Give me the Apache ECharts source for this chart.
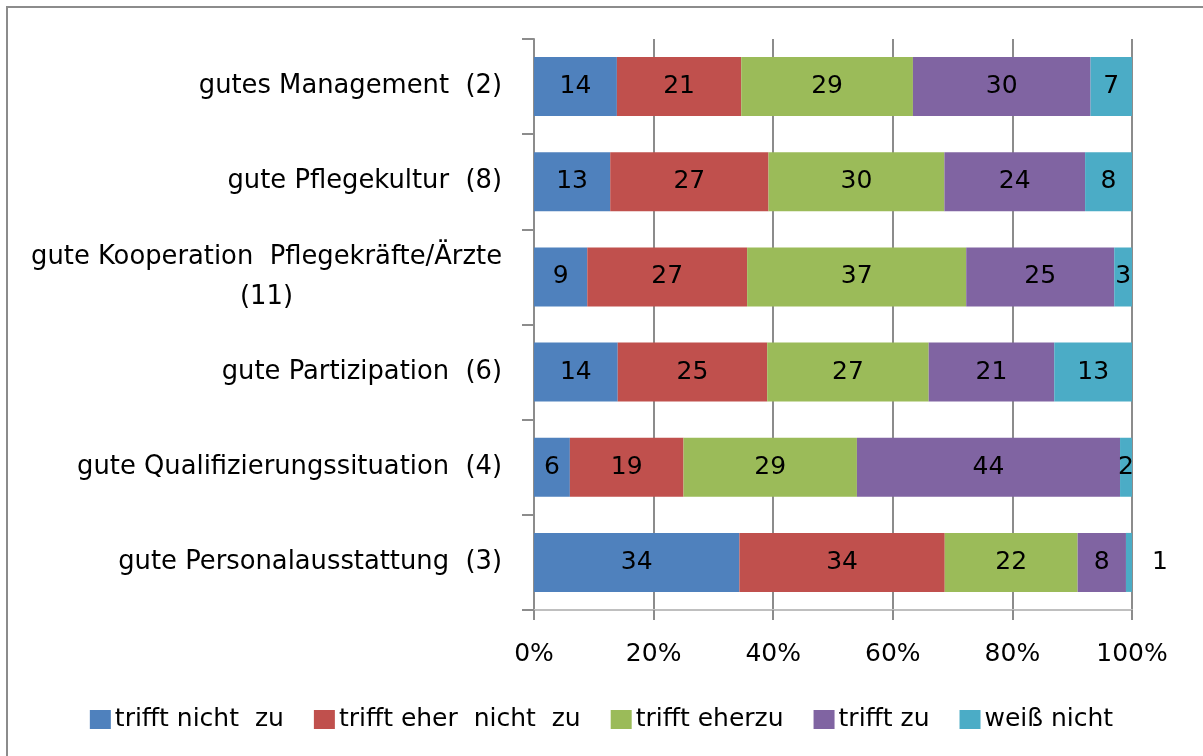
<!DOCTYPE html>
<html>
<head>
<meta charset="utf-8">
<script src="https://cdn.jsdelivr.net/npm/echarts@6/dist/echarts.min.js"></script>
<style>
  html, body { margin: 0; padding: 0; background: #fff; }
  #chart { width: 1203px; height: 756px; }
</style>
</head>
<body>
<div id="chart"></div>
<script>
// Kategorien (von oben nach unten)
var categories = [
  'gutes Management  (2)',
  'gute Pflegekultur  (8)',
  'gute Kooperation  Pflegekräfte/Ärzte\n(11)',
  'gute Partizipation  (6)',
  'gute Qualifizierungssituation  (4)',
  'gute Personalausstattung  (3)'
];
var seriesNames = ['trifft nicht  zu', 'trifft eher  nicht  zu', 'trifft eherzu', 'trifft zu', 'weiß nicht'];
// Werte je Antwort, gleiche Reihenfolge wie categories
var trifftNicht     = [14, 13, 9, 14, 6, 34];
var trifftEherNicht = [21, 27, 27, 25, 19, 34];
var trifftEher      = [29, 30, 37, 27, 29, 22];
var trifftZu        = [30, 24, 25, 21, 44, 8];
var weissNicht      = [7, 8, 3, 13, 2, 1];
var xTicks = [0, 20, 40, 60, 80, 100];

var colors = ['#4F81BD', '#C0504D', '#9BBB59', '#8064A2', '#4BACC6'];
var font = '"DejaVu Sans", sans-serif';

var rows = [trifftNicht, trifftEherNicht, trifftEher, trifftZu, weissNicht];
// Zeilensummen -> 100%-Stapel
var sums = categories.map(function (c, i) {
  return rows.reduce(function (s, r) { return s + r[i]; }, 0);
});

var series = rows.map(function (vals, si) {
  return {
    name: seriesNames[si],
    type: 'bar',
    stack: 'total',
    barCategoryGap: '38%',
    itemStyle: { color: colors[si] },
    label: {
      show: true,
      position: 'inside',
      fontSize: 25,
      fontFamily: font,
      color: '#000',
      formatter: function (p) { return vals[p.dataIndex]; }
    },
    data: vals.map(function (v, i) {
      var item = { value: v / sums[i] * 100 };
      // kleiner Wert rechts neben dem Balken
      if (si === 4 && i === 5) {
        item.label = { position: 'right', distance: 20 };
      }
      return item;
    })
  };
});

var chart = echarts.init(document.getElementById('chart'));
chart.setOption({
  animation: false,
  color: colors,
  textStyle: { fontFamily: font },
  graphic: [{
    type: 'rect',
    shape: { x: 7, y: 7, width: 1300, height: 900 },
    style: { fill: 'none', stroke: '#8c8c8c', lineWidth: 2 },
    silent: true
  }],
  legend: {
    top: 702,
    left: 'center',
    icon: 'rect',
    itemWidth: 21,
    itemHeight: 19,
    itemGap: 30,
    textStyle: { fontSize: 25, fontFamily: font, color: '#000', padding: [0, 0, 0, -1] },
    data: seriesNames
  },
  grid: { left: 534, right: 71, top: 39, bottom: 146 },
  xAxis: {
    type: 'value',
    min: xTicks[0],
    max: xTicks[xTicks.length - 1],
    interval: 20,
    axisLine: { show: true, lineStyle: { color: '#bfbfbf', width: 2 } },
    axisTick: { show: true, length: 10, lineStyle: { color: '#8c8c8c', width: 2 } },
    splitLine: { show: true, lineStyle: { color: '#8c8c8c', width: 2 } },
    axisLabel: { formatter: '{value}%', fontSize: 25, fontFamily: font, color: '#000', margin: 32 }
  },
  yAxis: {
    type: 'category',
    inverse: true,
    data: categories,
    axisLine: { show: true, lineStyle: { color: '#8c8c8c', width: 2 } },
    axisTick: { show: true, length: 12, lineStyle: { color: '#8c8c8c', width: 2 } },
    axisLabel: {
      margin: 32,
      formatter: function (v) {
        return v.split('\n').map(function (l) { return '{c|' + l + '}'; }).join('\n');
      },
      rich: {
        c: { fontSize: 25.8, fontFamily: font, color: '#000', align: 'center', lineHeight: 40 }
      }
    }
  },
  series: series
});
</script>
</body>
</html>
